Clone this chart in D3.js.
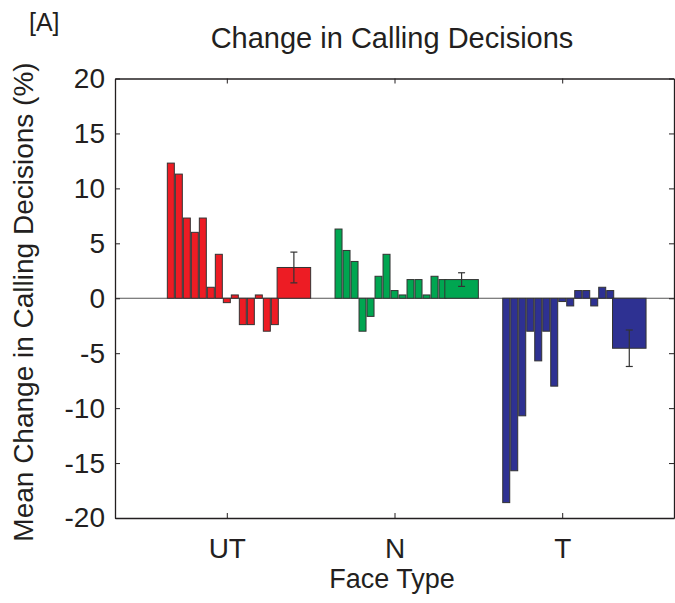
<!DOCTYPE html>
<html>
<head>
<meta charset="utf-8">
<script src="https://cdn.jsdelivr.net/npm/d3@7"></script>
<style>
  body { margin: 0; background: #fff; }
  text { font-family: "Liberation Sans", Arial, sans-serif; fill: #231f20; }
</style>
</head>
<body>
<svg id="chart" width="675" height="603"></svg>
<script>
// data
const categories = ["UT", "N", "T"];
const utValues = [12.3, 11.3, 7.3, 6.0, 7.3, 1.0, 4.0, -0.4, 0.3, -2.4, -2.4, 0.3, -3.0, -2.4];
const nValues  = [6.3, 4.35, 3.35, -3.0, -1.65, 2.0, 4.0, 0.7, 0.3, 1.7, 1.7, 0.3, 2.0, 1.7];
const tValues  = [-18.6, -15.7, -10.7, -3.0, -5.7, -3.0, -8.0, -0.3, -0.7, 0.7, 0.7, -0.7, 1.0, 0.7];
const means    = [2.8, 1.7, -4.55];
const errors   = [1.4, 0.62, 1.66];
const yTicks   = [-20, -15, -10, -5, 0, 5, 10, 15, 20];
const colors   = ["#ed1c24", "#00a651", "#2e3192"];

const groups = [utValues, nValues, tValues];

const svg = d3.select("#chart");
const pLeft = 115, pRight = 674, pTop = 78.5, pBottom = 518;

const x = d3.scaleLinear().domain([1/3, 11/3]).range([pLeft, pRight]);
const y = d3.scaleLinear().domain([-20, 20]).range([pBottom, pTop]);

// bar layout in axis units
const slot = 0.0477, barW = 0.0417, firstOff = -0.3546;
const meanFrom = 0.3, meanTo = 0.5;

// zero line
svg.append("line")
  .attr("x1", pLeft).attr("x2", pRight)
  .attr("y1", y(0)).attr("y2", y(0))
  .style("stroke", "#555").style("stroke-width", 1);

groups.forEach((vals, g) => {
  const c = g + 1;
  svg.append("g").selectAll("rect")
    .data(vals)
    .join("rect")
      .attr("x", (d, i) => x(c + firstOff + i * slot))
      .attr("width", x(c + barW) - x(c))
      .attr("y", d => y(Math.max(0, d)))
      .attr("height", d => Math.abs(y(d) - y(0)))
      .style("fill", colors[g])
      .style("stroke", "#333")
      .style("stroke-width", 1);

  // mean bar
  svg.append("rect")
    .attr("x", x(c + meanFrom))
    .attr("width", x(c + meanTo) - x(c + meanFrom))
    .attr("y", y(Math.max(0, means[g])))
    .attr("height", Math.abs(y(means[g]) - y(0)))
    .style("fill", colors[g])
    .style("stroke", "#333")
    .style("stroke-width", 1);

  // error bar
  const ex = x(c + (meanFrom + meanTo) / 2);
  const eg = svg.append("g").style("stroke", "#333").style("stroke-width", 1.2);
  eg.append("line").attr("x1", ex).attr("x2", ex)
    .attr("y1", y(means[g] - errors[g])).attr("y2", y(means[g] + errors[g]));
  [means[g] - errors[g], means[g] + errors[g]].forEach(v => {
    eg.append("line").attr("x1", ex - 3.5).attr("x2", ex + 3.5)
      .attr("y1", y(v)).attr("y2", y(v));
  });
});

// box axes, ticks pointing inward
const axisStyle = sel => {
  sel.select(".domain").style("stroke", "#231f20").style("stroke-width", 1.3);
  sel.selectAll(".tick line").style("stroke", "#231f20").style("stroke-width", 1);
  sel.selectAll("text").style("font-size", "28px")
    .style("font-family", '"Liberation Sans", Arial, sans-serif').style("fill", "#231f20");
};

svg.append("g").attr("transform", `translate(${pLeft},0)`)
  .call(d3.axisLeft(y).tickValues(yTicks).tickFormat(d => String(d))
    .tickSizeInner(-5).tickSizeOuter(0).tickPadding(10))
  .call(axisStyle);
svg.append("g").attr("transform", `translate(${pRight},0)`)
  .call(d3.axisRight(y).tickValues(yTicks).tickSizeInner(-5).tickSizeOuter(0).tickFormat(""))
  .call(axisStyle);
svg.append("g").attr("transform", `translate(0,${pBottom})`)
  .call(d3.axisBottom(x).tickValues([1, 2, 3]).tickFormat((d, i) => categories[i])
    .tickSizeInner(-5).tickSizeOuter(0).tickPadding(20))
  .call(axisStyle);
svg.append("g").attr("transform", `translate(0,${pTop})`)
  .call(d3.axisTop(x).tickValues([1, 2, 3]).tickSizeInner(-5).tickSizeOuter(0).tickFormat(""))
  .call(axisStyle);

// titles
svg.append("text")
  .attr("x", 392).attr("y", 48)
  .attr("text-anchor", "middle")
  .style("font-size", "29px")
  .text("Change in Calling Decisions");

svg.append("text")
  .attr("x", 392).attr("y", 588)
  .attr("text-anchor", "middle")
  .style("font-size", "27px")
  .text("Face Type");

svg.append("text")
  .attr("transform", "translate(33,302) rotate(-90)")
  .attr("text-anchor", "middle")
  .style("font-size", "28px")
  .text("Mean Change in Calling Decisions (%)");

svg.append("text")
  .attr("x", 29).attr("y", 31)
  .style("font-size", "25px")
  .text("[A]");
</script>
</body>
</html>
